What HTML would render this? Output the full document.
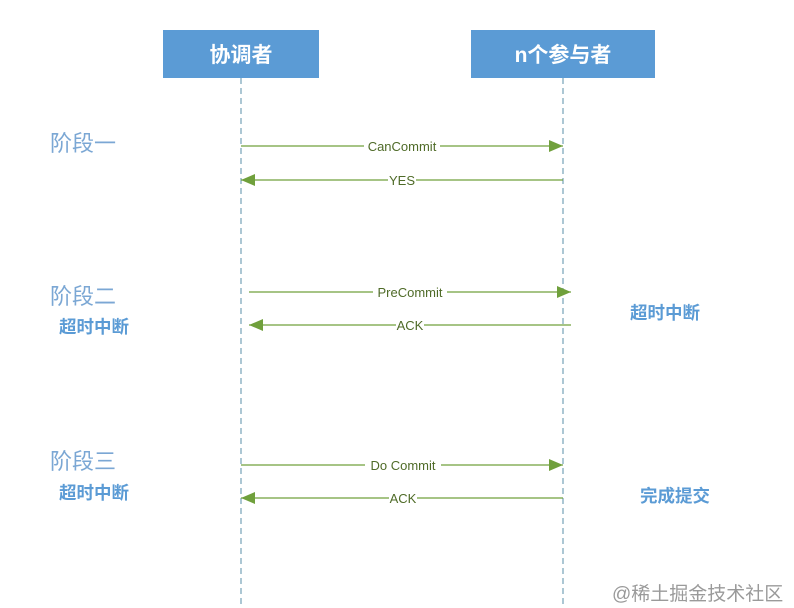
<!DOCTYPE html>
<html><head><meta charset="utf-8"><style>
body{margin:0;width:794px;height:608px;background:#fff;overflow:hidden;position:relative;font-family:"Liberation Sans","Noto Sans CJK SC",sans-serif}
.box{position:absolute;background:#5b9bd5;color:#fff;font-weight:bold;font-size:21px;display:flex;align-items:center;justify-content:center;top:30px;height:48px}
.t{position:absolute;white-space:nowrap}
.ph{color:#7ba7d4;font-size:22px;left:50px}
.b{color:#5b9bd5;font-weight:bold;font-size:17.5px}
</style></head><body>
<div class="box" style="left:163px;width:156px">协调者</div>
<div class="box" style="left:471px;width:184px">n个参与者</div>
<svg width="794" height="608" style="position:absolute;left:0;top:0">
<defs><marker id="a" markerWidth="14" markerHeight="12" refX="14" refY="6" orient="auto" markerUnits="userSpaceOnUse"><path d="M0,0L14,6L0,12z" fill="#70a03c"/></marker></defs>
<g stroke="#5a8fa8" stroke-width="1" stroke-dasharray="6,4"><line x1="241" y1="78" x2="241" y2="608"/><line x1="563" y1="78" x2="563" y2="608"/></g>
<g stroke="#70a03c" stroke-width="1.2" marker-end="url(#a)">
<line x1="241" y1="146" x2="563" y2="146"/><line x1="563" y1="180" x2="241" y2="180"/>
<line x1="249" y1="292" x2="571" y2="292"/><line x1="571" y1="325" x2="249" y2="325"/>
<line x1="241" y1="465" x2="563" y2="465"/><line x1="563" y1="498" x2="241" y2="498"/>
</g>
<g font-size="13" fill="#4f6b28" text-anchor="middle" font-family="Liberation Sans,sans-serif">
<rect x="364" y="138" width="76" height="16" fill="#fff"/><text x="402" y="151">CanCommit</text>
<rect x="388" y="172" width="28" height="16" fill="#fff"/><text x="402" y="185">YES</text>
<rect x="373" y="284" width="74" height="16" fill="#fff"/><text x="410" y="297">PreCommit</text>
<rect x="396" y="317" width="28" height="16" fill="#fff"/><text x="410" y="330">ACK</text>
<rect x="365" y="457" width="76" height="16" fill="#fff"/><text x="403" y="470">Do Commit</text>
<rect x="389" y="490" width="28" height="16" fill="#fff"/><text x="403" y="503">ACK</text>
</g>
</svg>
<div class="t ph" style="top:126px">阶段一</div>
<div class="t ph" style="top:279px">阶段二</div>
<div class="t ph" style="top:444px">阶段三</div>
<div class="t b" style="left:59px;top:314px">超时中断</div>
<div class="t b" style="left:59px;top:480px">超时中断</div>
<div class="t b" style="left:630px;top:300px">超时中断</div>
<div class="t b" style="left:640px;top:483px">完成提交</div>
<div class="t" style="left:612px;top:579px;font-size:19px;color:#9a9a9a">@稀土掘金技术社区</div>
</body></html>
